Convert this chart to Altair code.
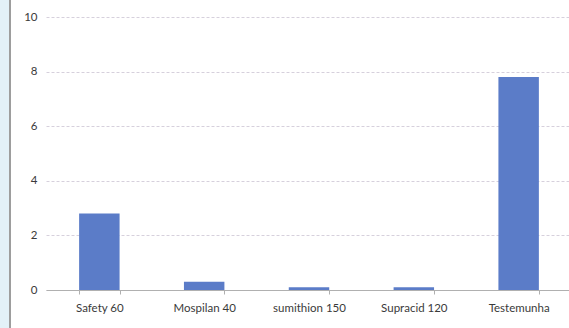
import altair as alt
import pandas as pd

categories = ["Safety 60", "Mospilan 40", "sumithion 150", "Supracid 120", "Testemunha"]
values = [2.8, 0.3, 0.1, 0.1, 7.8]
y_ticks = [0, 2, 4, 6, 8, 10]

df = pd.DataFrame({"cat": categories, "val": values})

bars = alt.Chart(df).mark_bar(color="#5b7cc8").encode(
    x=alt.X("cat:N", sort=categories, title=None,
            scale=alt.Scale(paddingInner=0.614, paddingOuter=0.316, range=[0, 526]),
            axis=alt.Axis(labelAngle=0, labelFont="Lato", labelFontSize=11.5, labelColor="#3a3a3a",
                          labelPadding=8, tickBand="extent", tickSize=4, tickColor="#b0b0b0",
                          domainColor="#b0b0b0", grid=False)),
    y=alt.Y("val:Q", title=None,
            scale=alt.Scale(domain=[0, 10], nice=False),
            axis=alt.Axis(values=y_ticks, labelFont="Lato", labelFontSize=11.5, labelColor="#3a3a3a",
                          labelPadding=9, ticks=False, domain=False,
                          grid=True, gridColor="#d6d0dc", gridDash=[3, 2]))
)

strip = alt.Chart(df).mark_rect(color="#e3f1f8").encode(
    x=alt.value(-46), x2=alt.value(-37), y=alt.value(-17), y2=alt.value(311)
)
vline = alt.Chart(df).mark_rule(color="#9a9a9a", strokeWidth=1).encode(
    x=alt.value(-36), y=alt.value(-17), y2=alt.value(311)
)

chart = alt.layer(strip, vline, bars).properties(
    width=520, height=273,
    padding={"left": 46, "top": 17, "right": 3, "bottom": 38},
    autosize=alt.AutoSizeParams(type="none"),
    background="white"
).configure_view(stroke=None)

chart.save("out.html", embed_options={"renderer": "svg", "actions": False})
